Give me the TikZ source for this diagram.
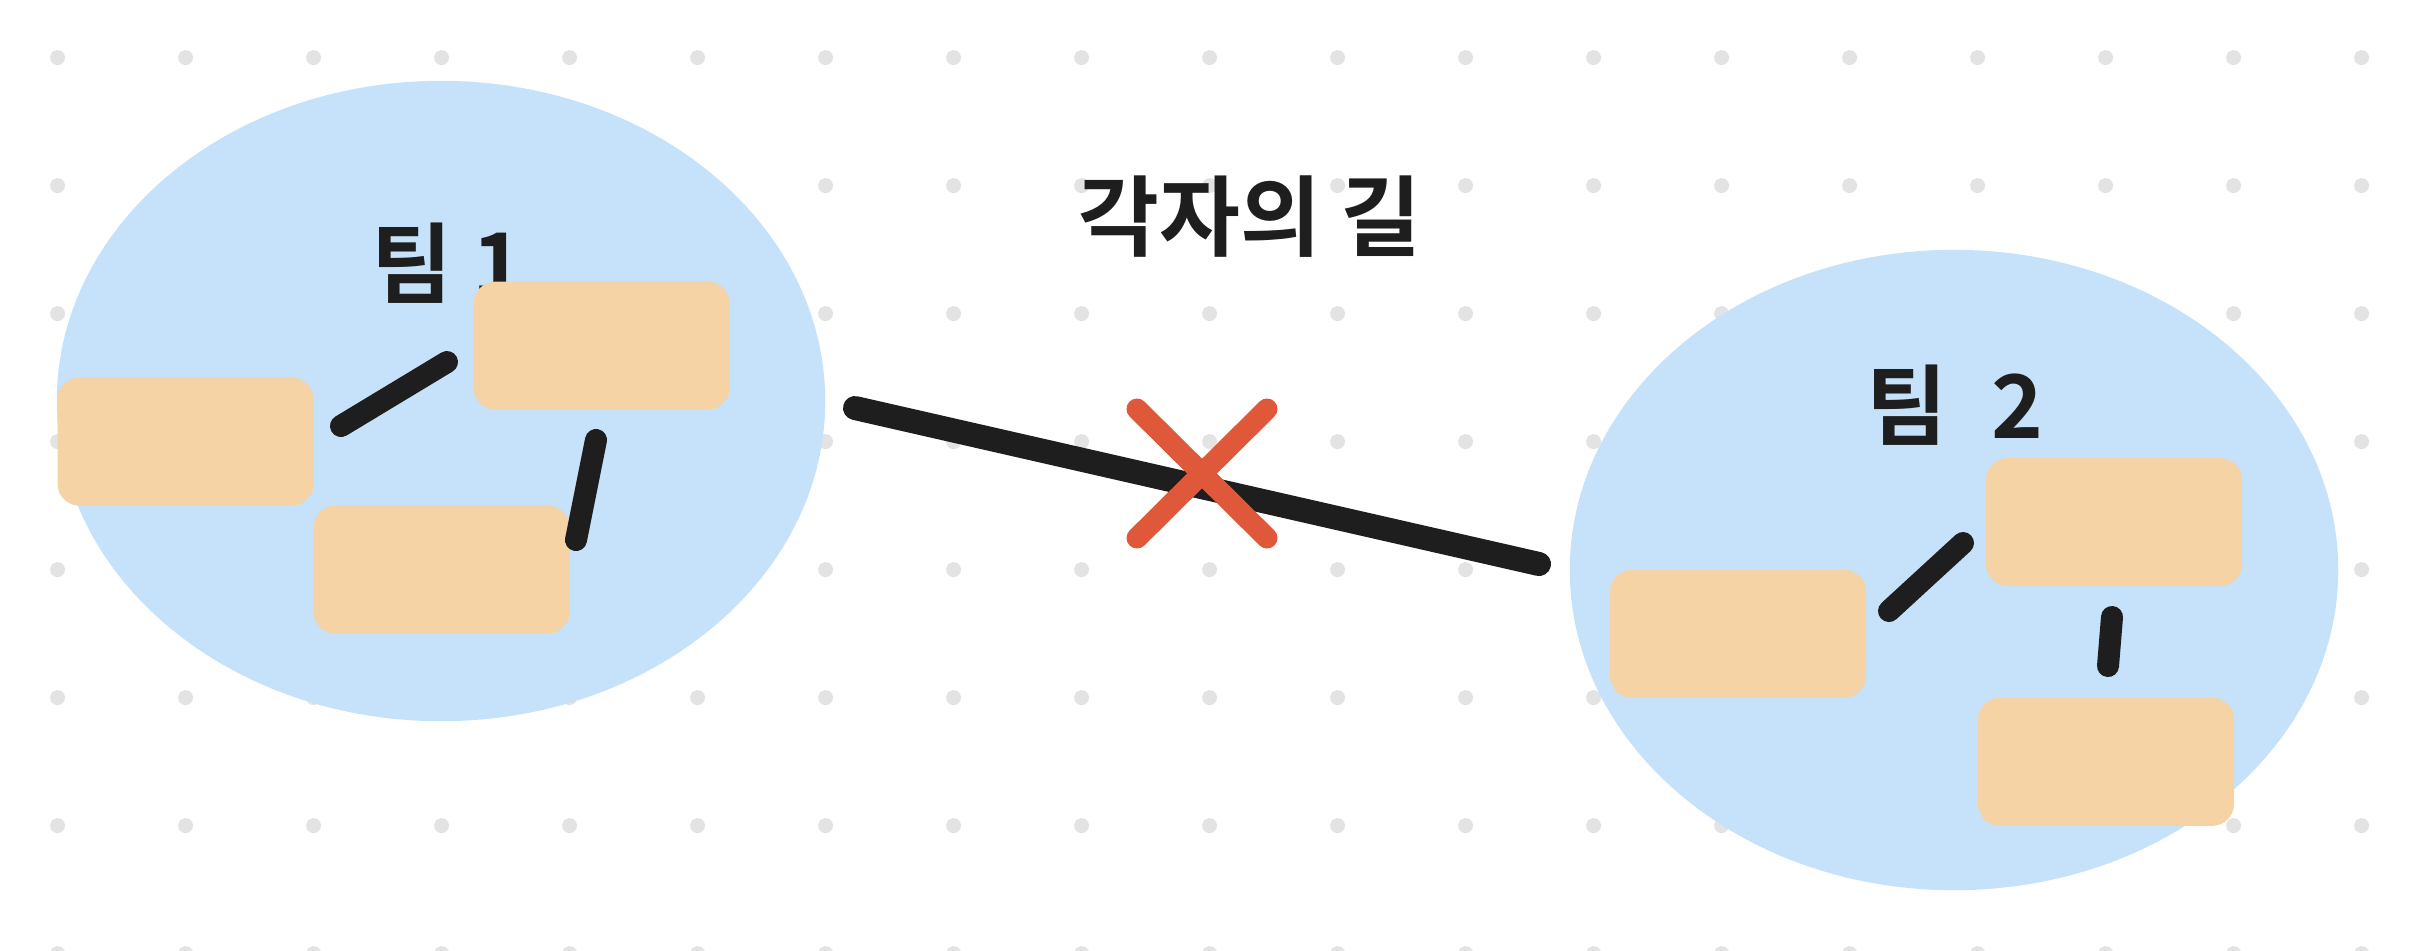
\documentclass[tikz,border=0pt]{standalone}
\usepackage{fontspec}
\newfontfamily\kr[BoldFont={* Bold}]{Noto Sans CJK KR}
\usetikzlibrary{shapes.geometric}
\definecolor{dotc}{HTML}{E3E3E3}
\definecolor{teamblue}{HTML}{C5E2FA}
\definecolor{cardc}{HTML}{F5D3A5}
\definecolor{inkc}{HTML}{1E1E1E}
\definecolor{crossc}{HTML}{E0583A}
\tikzset{
  team/.style={ellipse, fill=teamblue, draw=none, inner sep=0pt, minimum width=7.68cm, minimum height=6.4cm},
  card/.style={rectangle, rounded corners=0.22cm, fill=cardc, draw=none, inner sep=0pt, minimum width=2.56cm, minimum height=1.28cm},
  lbl/.style={anchor=base, inner sep=0pt, text=inkc, font=\kr\bfseries\fontsize{25pt}{30pt}\selectfont},
  link/.style={draw=inkc, line width=0.22cm, line cap=round},
  bigline/.style={draw=inkc, line width=0.24cm, line cap=round},
  cross/.style={draw=crossc, line width=0.21cm, line cap=round}
}
\begin{document}
\begin{tikzpicture}[x=0.01cm,y=-0.01cm]
\useasboundingbox (0,0) rectangle (2412,950);
\fill[white] (0,0) rectangle (2412,950);
% dot grid
\foreach \i in {0,...,18}{
  \foreach \j in {0,...,7}{
    \fill[dotc] ({57.6+128*\i},{57.6+128*\j}) circle[radius=0.075cm];
  }
}
% teams
\node[team] (t1) at (441,401) {};
\node[team] (t2) at (1954,570) {};
% labels
\node[lbl] (l1) at (448,296) {팀 1};
\node[lbl] (l2) at (1955,438) {팀\hspace{0.5em}2};
\node[lbl] (title) at (1250,249) {각자의 길};
% cards
\node[card] (a1) at (185.6,441.6) {};
\node[card] (b1) at (601.6,345.6) {};
\node[card] (c1) at (441.6,569.6) {};
\node[card] (a2) at (1738,633.8) {};
\node[card] (b2) at (2114,522) {};
\node[card] (c2) at (2106,761.8) {};
% connector ends
\coordinate (pA1) at (341,426);
\coordinate (pA2) at (447,362);
\coordinate (pB1) at (596,440);
\coordinate (pB2) at (576,540);
\coordinate (pC1) at (1889,611);
\coordinate (pC2) at (1963,543);
\coordinate (pD1) at (2112,617);
\coordinate (pD2) at (2108,666);
\coordinate (g1) at (855,408);
\coordinate (g2) at (1539,564);
\coordinate (x1) at (1137,409);
\coordinate (x2) at (1267,538);
\coordinate (x3) at (1267,409);
\coordinate (x4) at (1137,538);
\draw[link] (pA1) -- (pA2);
\draw[link] (pB1) -- (pB2);
\draw[link] (pC1) -- (pC2);
\draw[link] (pD1) -- (pD2);
\draw[bigline] (g1) -- (g2);
\draw[cross] (x1) -- (x2);
\draw[cross] (x3) -- (x4);
\end{tikzpicture}
\end{document}
